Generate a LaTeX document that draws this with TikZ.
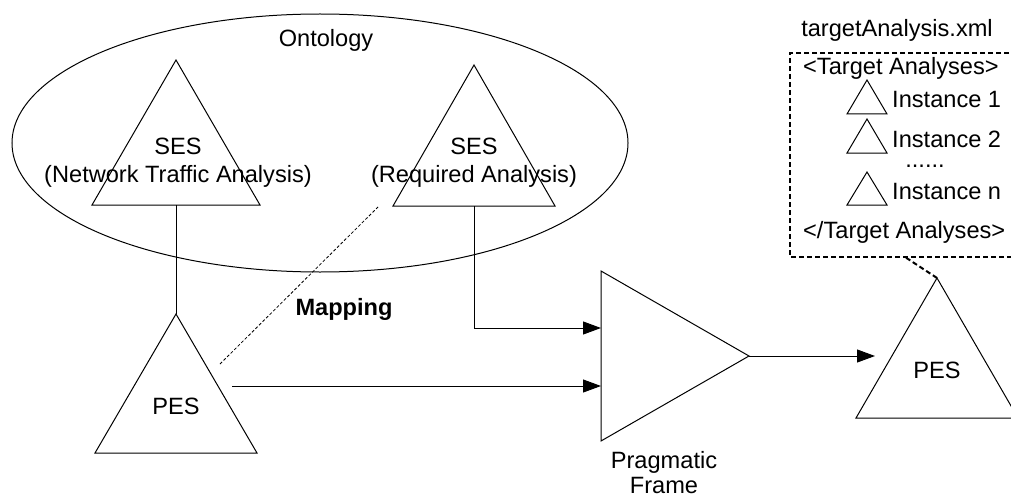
\documentclass[tikz,border=0pt]{standalone}
\usepackage{fontspec}
\setmainfont{Liberation Sans}
\usetikzlibrary{arrows.meta}
\begin{document}
\begin{tikzpicture}[x=1pt,y=-1pt,
  every node/.style={inner sep=0pt,font=\fontsize{23.6}{28}\selectfont},
  shape line/.style={line width=1pt,line join=miter},
  link/.style={line width=1pt},
  flow/.style={line width=1pt,-{Triangle[length=18pt,width=13pt]}},
  mapline/.style={line width=0.8pt,dash pattern=on 3pt off 2pt},
  filebox/.style={line width=2pt,dash pattern=on 5pt off 3pt},
  lbl/.style={anchor=base}]
\useasboundingbox (0,0) rectangle (1011,500);
\clip (0,0) rectangle (1011,500);

% ontology ellipse
\draw[shape line] (320,143) ellipse [x radius=308, y radius=129];
\node[lbl] (onto) at (326,47) {Ontology};

% SES: network traffic analysis
\coordinate (sesL-top) at (176,60);
\coordinate (sesL-bot) at (176,205);
\draw[shape line] (sesL-top) -- (260,205) -- (92,205) -- cycle;
\node[lbl] (sesL-t1) at (178,154) {SES};
\node[lbl] (sesL-t2) at (178,182) {(Network Traffic Analysis)};

% SES: required analysis
\coordinate (sesR-top) at (474,65);
\coordinate (sesR-bot) at (474,206);
\draw[shape line] (sesR-top) -- (555,206) -- (393,206) -- cycle;
\node[lbl] (sesR-t1) at (474,154) {SES};
\node[lbl] (sesR-t2) at (474,182) {(Required Analysis)};

% PES (left)
\coordinate (pesL-top) at (176,314);
\draw[shape line] (pesL-top) -- (257,453) -- (95,453) -- cycle;
\node[lbl] (pesL) at (176,414) {PES};

% pragmatic frame
\coordinate (pf-top) at (601,271);
\coordinate (pf-bot) at (601,441);
\coordinate (pf-out) at (749,356);
\draw[shape line] (pf-top) -- (pf-out) -- (pf-bot) -- cycle;
\node[lbl] (pf-t1) at (664,468) {Pragmatic};
\node[lbl] (pf-t2) at (664,493) {Frame};

% PES (right)
\coordinate (pesR-top) at (937,278);
\draw[shape line] (pesR-top) -- (1018,418) -- (856,418) -- cycle;
\node[lbl] (pesR) at (937,378) {PES};

% file box with target analyses
\node[lbl] (file) at (897,37) {targetAnalysis.xml};
\draw[filebox] (1025,53) -- (790,53) -- (790,257) -- (1025,257);
\coordinate (box-bot) at (905,257);
\node[anchor=base west] (open) at (803,75) {<Target Analyses>};
\foreach \t/\b/\name/\txt in {80/114/i1/Instance 1, 119/153/i2/Instance 2, 172/205/in/Instance n}{
  \draw[shape line] (867,\t) -- (887,\b) -- (847,\b) -- cycle;
  \node[anchor=base west] (\name) at (892,\b-6) {\txt};
}
\node[lbl] (dots) at (925,167) {......};
\node[anchor=base west] (close) at (803,238) {</Target Analyses>};

% connectors
\draw[link] (sesL-bot) -- (pesL-top);
\coordinate (map-a) at (220,364);
\coordinate (map-b) at (378,207);
\draw[mapline] (map-a) -- (map-b);
\node[lbl,font=\fontsize{23.6}{28}\selectfont\bfseries] (mapping) at (344,315) {Mapping};
\coordinate (pesL-out) at (232,386);
\draw[flow] (pesL-out) -- (pesL-out -| pf-top);
\draw[flow] (sesR-bot) |- (pf-top |- 0,328);
\coordinate (pesR-in) at (875,356);
\draw[flow] (pf-out) -- (pesR-in);
\draw[filebox] (pesR-top) -- (box-bot);
\end{tikzpicture}
\end{document}
